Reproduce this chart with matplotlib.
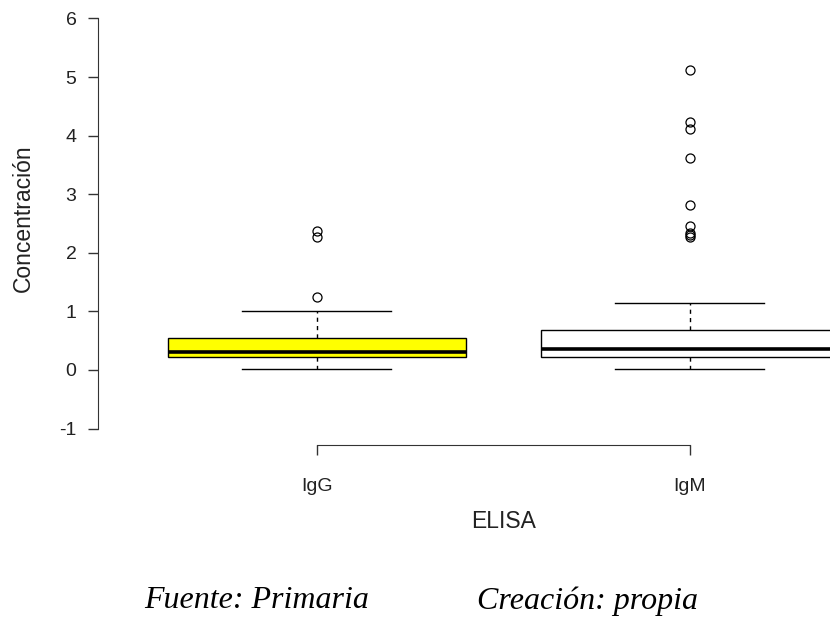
import matplotlib
matplotlib.use("Agg")
import matplotlib.pyplot as plt

# box statistics
groups = ["IgG", "IgM"]
q1 = [0.22, 0.23]
med = [0.31, 0.36]
q3 = [0.54, 0.69]
whislo = [0.02, 0.01]
whishi = [1.01, 1.15]
outliers_igg = [1.24, 2.27, 2.37]
outliers_igm = [2.27, 2.30, 2.33, 2.46, 2.82, 3.61, 4.11, 4.24, 5.12]
box_colors = ["#ffff00", "white"]

yticks = [-1, 0, 1, 2, 3, 4, 5, 6]

plt.rcParams["font.family"] = ["Liberation Sans", "DejaVu Sans"]

fig = plt.figure(figsize=(8.3, 6.2), dpi=100)
W, H = 830, 620
# plot region in pixels (right edge runs past the cropped figure)
left, right, top, bottom = 98, 906, 2, 445
ax = fig.add_axes([left / W, 1 - bottom / H, (right - left) / W, (bottom - top) / H])

stats = []
fliers = [outliers_igg, outliers_igm]
for i, g in enumerate(groups):
    stats.append(dict(label=g, q1=q1[i], med=med[i], q3=q3[i],
                      whislo=whislo[i], whishi=whishi[i], fliers=fliers[i]))

bp = ax.bxp(stats, positions=[1, 2], widths=0.8, patch_artist=True,
            showfliers=True,
            boxprops=dict(edgecolor="black", linewidth=1.0),
            medianprops=dict(color="black", linewidth=2.6, solid_capstyle="butt"),
            whiskerprops=dict(color="black", linestyle=(0, (3, 3)), linewidth=1.0),
            capprops=dict(color="black", linewidth=1.0),
            capwidths=0.4,
            flierprops=dict(marker="o", markerfacecolor="none", markeredgecolor="black",
                            markersize=6.5, markeredgewidth=0.9))
for patch, c in zip(bp["boxes"], box_colors):
    patch.set_facecolor(c)

ax.set_xlim(0.413, 2.58)
ax.set_ylim(-1.28, 6.28)

for s in ["top", "right"]:
    ax.spines[s].set_visible(False)
ax.spines["left"].set_bounds(-1, 6)
ax.spines["bottom"].set_bounds(1, 2)
ax.spines["left"].set_color("#333333")
ax.spines["bottom"].set_color("#333333")

ax.set_yticks(yticks)
ax.set_yticklabels([str(t) for t in yticks])
ax.set_xticks([1, 2])
ax.set_xticklabels(groups)
ax.tick_params(axis="both", direction="out", length=7.5, width=1.0, color="#333333",
               labelsize=14, labelcolor="#222222")
ax.tick_params(axis="x", pad=16)
ax.tick_params(axis="y", pad=8)

fig.text(23 / W, 1 - 218 / H, "Concentración", rotation=90, ha="center", va="center",
         fontsize=16.5, color="#222222")
fig.text(504 / W, 1 - 521 / H, "ELISA", ha="center", va="center",
         fontsize=16.5, color="#222222")

cap = dict(family=["Liberation Serif", "DejaVu Serif"], style="italic", fontsize=23,
           va="center", ha="left")
fig.text(144 / W, 1 - 601 / H, "Fuente: Primaria", **cap)
fig.text(477 / W, 1 - 601 / H, "Creación: propia", **cap)

fig.savefig("out.png", dpi=100)
